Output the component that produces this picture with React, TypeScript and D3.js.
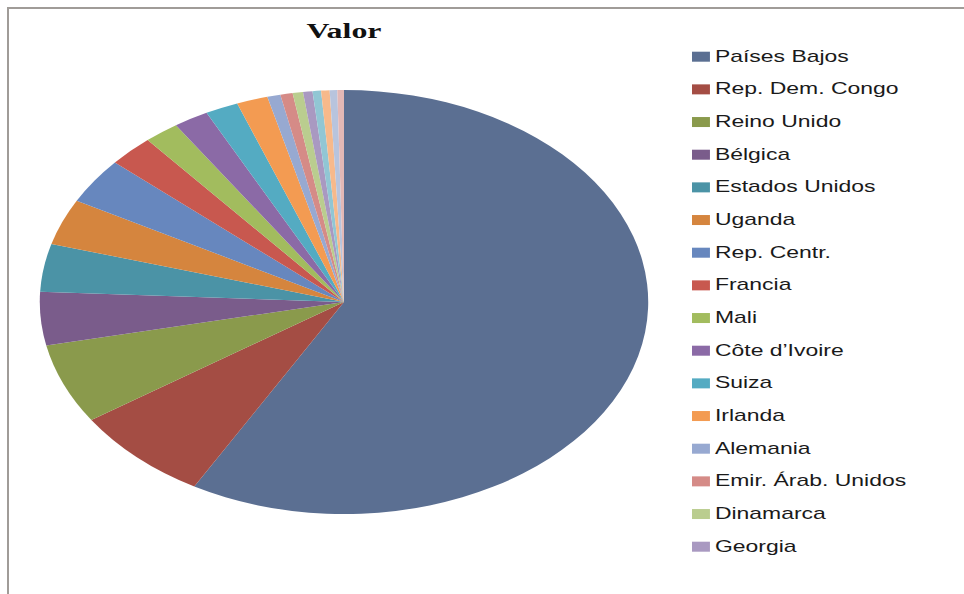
import * as d3 from "d3";

// países y valores (porcentaje aproximado del total)
const paises = [
  "Países Bajos", "Rep. Dem. Congo", "Reino Unido", "Bélgica", "Estados Unidos",
  "Uganda", "Rep. Centr.", "Francia", "Mali", "Côte d'Ivoire", "Suiza", "Irlanda",
  "Alemania", "Emir. Árab. Unidos", "Dinamarca", "Georgia",
  "Otro 17", "Otro 18", "Otro 19", "Otro 20",
];
const valores = [
  58.1, 7.4, 6.1, 4.05, 3.65, 3.5, 3.5, 2.4, 1.85, 1.85, 1.75, 1.65,
  0.7, 0.65, 0.55, 0.5, 0.45, 0.45, 0.4, 0.35,
];
// solo las primeras 16 entradas aparecen en la leyenda
const enLeyenda = 16;

const colores = [
  "#5b6f92", "#a44d44", "#8a9a4c", "#7a5c8b", "#4b93a6", "#d5853e",
  "#6787be", "#c8584f", "#a2bc5e", "#8b6aa6", "#54abc2", "#f39b52",
  "#97a9d1", "#d58b87", "#bacd8f", "#a999c1",
  "#91c6d4", "#f7b98b", "#b8c4dd", "#e3b8b6",
];

const W = 964;
const H = 594;
const sx = 1.435; // la imagen original está estirada en horizontal

export default function App() {
  const datos = paises.map((p, i) => ({ pais: p, valor: valores[i] }));

  const color = d3.scaleOrdinal<string, string>().domain(paises).range(colores);

  const pie = d3
    .pie<{ pais: string; valor: number }>()
    .sort(null)
    .value((d) => d.valor);
  const arcos = pie(datos);

  const ry = 212;
  const arc = d3
    .arc<d3.PieArcDatum<{ pais: string; valor: number }>>()
    .innerRadius(0)
    .outerRadius(ry);

  const cx = 344;
  const cy = 302;

  // posiciones de la leyenda
  const leyY = d3
    .scaleLinear()
    .domain([0, enLeyenda - 1])
    .range([56.7, 546.7]);

  return (
    <svg
      width={W}
      height={H}
      style={{ position: "absolute", left: 0, top: 0, background: "#fff" }}
    >
      <rect
        x={8}
        y={8}
        width={W + 20}
        height={H + 20}
        fill="#fff"
        stroke="#a09c98"
        strokeWidth={2}
      />
      <text
        transform={`translate(${cx},38) scale(1.45,1)`}
        textAnchor="middle"
        fontFamily="'Liberation Serif', 'Times New Roman', serif"
        fontWeight="bold"
        fontSize={22}
        fill="#111"
      >
        Valor
      </text>

      <g transform={`translate(${cx},${cy}) scale(${sx},1)`}>
        {arcos.map((a) => (
          <path key={a.data.pais} d={arc(a) ?? ""} fill={color(a.data.pais)} />
        ))}
      </g>

      {datos.slice(0, enLeyenda).map((d, i) => (
        <g key={d.pais} transform={`translate(692,${leyY(i)}) scale(${sx},1)`}>
          <rect x={0} y={-5} width={12.5} height={10} fill={color(d.pais)} />
          <text
            x={16}
            y={5}
            fontFamily="'Liberation Sans', Arial, sans-serif"
            fontSize={16}
            fill="#1a1a1a"
          >
            {d.pais.replace("'", "\u2019")}
          </text>
        </g>
      ))}
    </svg>
  );
}
